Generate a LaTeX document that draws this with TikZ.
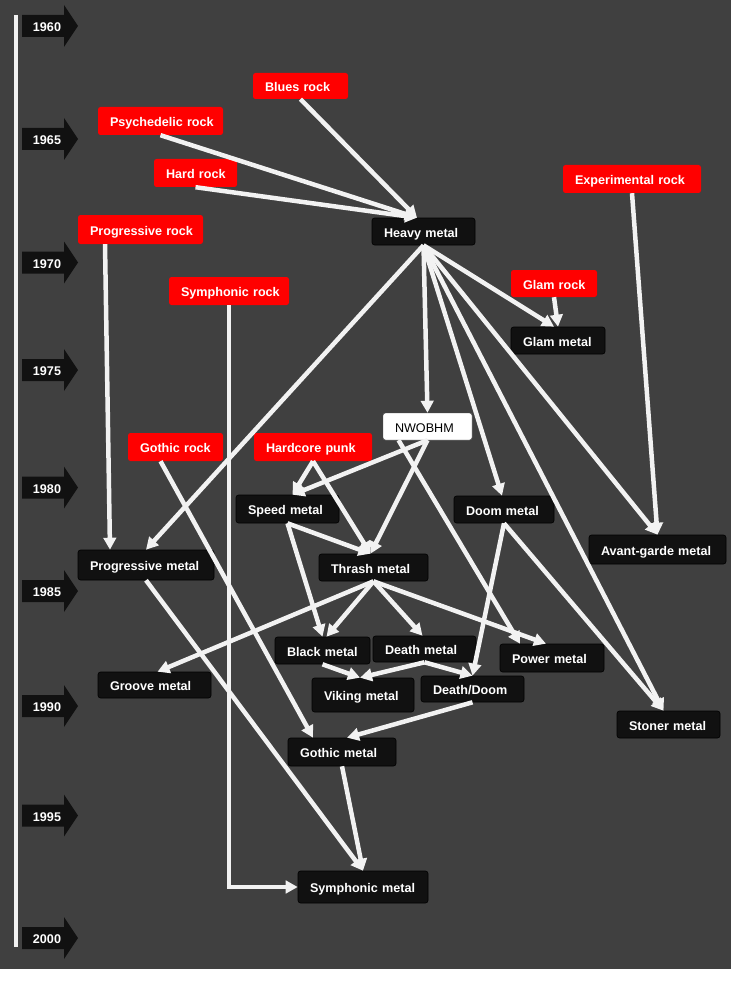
\documentclass[tikz,border=0pt]{standalone}
\usepackage{fontspec}
\setmainfont{Liberation Sans}
\usepackage{xcolor}
\usetikzlibrary{arrows.meta,shapes,calc,positioning}
\definecolor{bgback}{HTML}{404040}
\definecolor{boxblack}{HTML}{111111}
\definecolor{boxred}{HTML}{FF0000}
\definecolor{linkwhite}{HTML}{F2F2F2}

\begin{document}
\begin{tikzpicture}[x=1pt,y=-1pt]
	\tikzstyle{every node}=[font=\fontsize{12.6}{14}\selectfont\bfseries, text=white, text height=11.5pt, text depth=0pt]
	\tikzstyle{genre}=[rounded corners=2.5pt, inner xsep=12pt, inner ysep=0pt, align=left]
	\tikzstyle{metal}=[genre, fill=boxblack, draw=black, line width=0.6pt]
	\tikzstyle{rock}=[genre, fill=boxred]
	\tikzstyle{newwave}=[genre, fill=white, draw=black!70, text=black, font=\fontsize{12.6}{14}\selectfont\mdseries]
	\tikzstyle{link}=[line width=4.5pt, draw=linkwhite, ->, >={Triangle[length=12pt,width=12.5pt]}]
	\fill [white] (0,0) rectangle (731,987);
	\fill [bgback] (0,0) rectangle (731,969);
	\draw [line width=3.5pt, linkwhite] (16,15) -- (16,947);
	\foreach \yr/\ypos in {1960/26, 1965/139, 1970/262.5, 1975/370, 1980/487.5, 1985/591, 1990/706, 1995/815.5, 2000/938} {
		\fill [boxblack] (22,\ypos-11) -- (64,\ypos-11) -- (64,\ypos-21) -- (78,\ypos) -- (64,\ypos+21) -- (64,\ypos+11) -- (22,\ypos+11) -- cycle;
		\node (y\yr) at (47,\ypos) {\yr};
	}
	\node [rock, text width=71pt, minimum height=26pt] (blues) at (300.5,86) {Blues~rock};
	\node [rock, text width=101pt, minimum height=28pt] (psych) at (160.5,121) {Psychedelic~rock};
	\node [rock, text width=59pt, minimum height=28pt] (hard) at (195.5,173) {Hard~rock};
	\node [rock, text width=101pt, minimum height=29pt] (progrock) at (140.5,229.5) {Progressive~rock};
	\node [rock, text width=96pt, minimum height=28pt] (symrock) at (229,291) {Symphonic~rock};
	\node [rock, text width=114pt, minimum height=28pt] (exprock) at (632,179) {Experimental~rock};
	\node [rock, text width=62pt, minimum height=27pt] (glamrock) at (554,283.5) {Glam~rock};
	\node [rock, text width=71pt, minimum height=28pt] (gothrock) at (175.5,447) {Gothic~rock};
	\node [rock, text width=94pt, minimum height=28pt] (hardcore) at (313,447) {Hardcore~punk};
	\node [metal, text width=79pt, minimum height=27pt] (heavy) at (423.5,231.5) {Heavy~metal};
	\node [metal, text width=70pt, minimum height=27pt] (glammetal) at (558,340.5) {Glam~metal};
	\node [newwave, text width=65pt, minimum height=27pt] (nwobhm) at (427.5,426.5) {NWOBHM};
	\node [metal, text width=79pt, minimum height=28pt] (speed) at (287.5,509) {Speed~metal};
	\node [metal, text width=76pt, minimum height=27pt] (doom) at (504,509.5) {Doom~metal};
	\node [metal, text width=113pt, minimum height=29pt] (avant) at (657.5,549.5) {Avant-garde~metal};
	\node [metal, text width=112pt, minimum height=30pt] (progmetal) at (146,565) {Progressive~metal};
	\node [metal, text width=85pt, minimum height=27pt] (thrash) at (373.5,567.5) {Thrash~metal};
	\node [metal, text width=71pt, minimum height=27pt] (black) at (322.5,650.5) {Black~metal};
	\node [metal, text width=79pt, minimum height=26pt] (death) at (424.5,649) {Death~metal};
	\node [metal, text width=80pt, minimum height=28pt] (power) at (552,658) {Power~metal};
	\node [metal, text width=89pt, minimum height=26pt] (groove) at (154.5,685) {Groove~metal};
	\node [metal, text width=78pt, minimum height=34pt] (viking) at (363,695) {Viking~metal};
	\node [metal, text width=79pt, minimum height=26pt] (deathdoom) at (472.5,689) {Death/Doom};
	\node [metal, text width=79pt, minimum height=27pt] (stoner) at (668.5,724.5) {Stoner~metal};
	\node [metal, text width=84pt, minimum height=28pt] (gothmetal) at (342,752) {Gothic~metal};
	\node [metal, text width=106pt, minimum height=32pt] (symmetal) at (363,887) {Symphonic~metal};
	\draw [link] (blues.south) -- ([xshift=-6.5pt]heavy.north);
	\draw [link] (psych.south) -- ([xshift=-6.5pt]heavy.north);
	\draw [link] (hard.south) -- ([xshift=-6.5pt]heavy.north);
	\draw [link] (heavy.south) -- (progmetal.north);
	\draw [link] (heavy.south) -- (nwobhm.north);
	\draw [link] (heavy.south) -- ([xshift=-4pt]glammetal.north);
	\draw [link] (heavy.south) -- ([xshift=-2pt]doom.north);
	\draw [link] (heavy.south) -- ([xshift=-5pt]stoner.north);
	\draw [link] (heavy.south) -- (avant.north);
	\draw [link] (glamrock.south) -- (glammetal.north);
	\draw [link] (exprock.south) -- (avant.north);
	\draw [link] ([xshift=-35.5pt]progrock.south) -- ([xshift=-36pt]progmetal.north);
	\draw [link] (symrock.south) |- (symmetal.west);
	\draw [link] ([xshift=-15pt]gothrock.south) -- ([xshift=-29pt]gothmetal.north);
	\draw [link] (hardcore.south) -- ([xshift=5pt]speed.north);
	\draw [link] (hardcore.south) -- ([xshift=-3pt]thrash.north);
	\draw [link] (nwobhm.south) -- ([xshift=5pt]speed.north);
	\draw [link] (nwobhm.south) -- ([xshift=-3pt]thrash.north);
	\draw [link] ([xshift=-29pt]nwobhm.south) -- ([xshift=-32pt]power.north);
	\draw [link] (speed.south) -- ([xshift=-3pt]thrash.north);
	\draw [link] (speed.south) -- (black.north);
	\draw [link] (thrash.south) -- ([xshift=3pt]groove.north);
	\draw [link] (thrash.south) -- ([xshift=4pt]black.north);
	\draw [link] (thrash.south) -- ([xshift=-2pt]death.north);
	\draw [link] (thrash.south) -- ([xshift=-6pt]power.north);
	\draw [link] (black.south) -- ([xshift=-3pt]viking.north);
	\draw [link] (death.south) -- ([xshift=-3pt]viking.north);
	\draw [link] (death.south) -- (deathdoom.north);
	\draw [link] (doom.south) -- (deathdoom.north);
	\draw [link] (doom.south) -- ([xshift=-5pt]stoner.north);
	\draw [link] (deathdoom.south) -- ([xshift=5pt]gothmetal.north);
	\draw [link] (progmetal.south) -- (symmetal.north);
	\draw [link] (gothmetal.south) -- (symmetal.north);
\end{tikzpicture}
\end{document}
